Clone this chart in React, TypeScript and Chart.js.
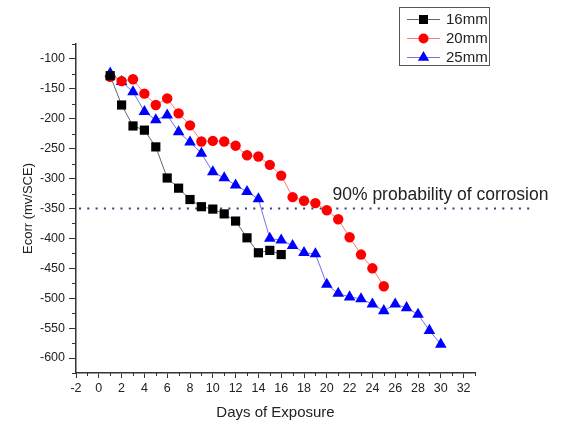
import React, { useEffect, useRef } from "react";
import { Chart, registerables } from "chart.js";

Chart.register(...registerables);

// ---- data ----
const DAYS_16 = [1, 2, 3, 4, 5, 6, 7, 8, 9, 10, 11, 12, 13, 14, 15, 16];
const ECORR_16 = [-128, -177, -212, -219, -247, -299, -316, -335, -347, -351, -359, -371, -399, -424, -420, -427];

const DAYS_20 = [1, 2, 3, 4, 5, 6, 7, 8, 9, 10, 11, 12, 13, 14, 15, 16, 17, 18, 19, 20, 21, 22, 23, 24, 25];
const ECORR_20 = [-130, -137, -134, -158, -177, -166, -191, -211, -238, -237, -238, -245, -261, -263, -277, -295, -331, -337, -341, -353, -368, -398, -427, -450, -480];

const DAYS_25 = [1, 2, 3, 4, 5, 6, 7, 8, 9, 10, 11, 12, 13, 14, 15, 16, 17, 18, 19, 20, 21, 22, 23, 24, 25, 26, 27, 28, 29, 30];
const ECORR_25 = [-124, -138, -155, -188, -202, -194, -222, -239, -258, -289, -299, -311, -322, -334, -400, -403, -412, -424, -426, -477, -492, -498, -501, -510, -521, -510, -516, -527, -554, -577];

const SERIES_LABELS = ["16mm", "20mm", "25mm"];

const X_TICKS = [-2, 0, 2, 4, 6, 8, 10, 12, 14, 16, 18, 20, 22, 24, 26, 28, 30, 32];
const X_MINOR_TICKS = [-1, 1, 3, 5, 7, 9, 11, 13, 15, 17, 19, 21, 23, 25, 27, 29, 31, 33];
const Y_TICKS = [-600, -550, -500, -450, -400, -350, -300, -250, -200, -150, -100];
const Y_MINOR_TICKS = [-625, -575, -525, -475, -425, -375, -325, -275, -225, -175, -125, -75];

const THRESHOLD = -350;
const THRESHOLD_END_X = 38;
const THRESHOLD_LABEL = "90% probability of corrosion";
const THRESHOLD_LABEL_X = 20.5;
const THRESHOLD_LABEL_Y = -328;

const X_TITLE = "Days of Exposure";
const Y_TITLE = "Ecorr (mv/SCE)";

const FONT = "'Liberation Sans', Arial, sans-serif";
const AXIS_COLOR = "#333333";
const TEXT_COLOR = "#222222";

const COLORS = {
  s16: { line: "#666666", point: "#000000", style: "rect" },
  s20: { line: "#ff7a7a", point: "#ff0000", style: "circle" },
  s25: { line: "#7070f0", point: "#0000ff", style: "triangle" },
};

function drawMarker(ctx: CanvasRenderingContext2D, style: string, x: number, y: number, color: string) {
  ctx.save();
  ctx.fillStyle = color;
  ctx.beginPath();
  if (style === "rect") {
    ctx.rect(x - 4.5, y - 4.5, 9, 9);
  } else if (style === "circle") {
    ctx.arc(x, y, 5, 0, Math.PI * 2);
  } else {
    const r = 6.5;
    ctx.moveTo(x, y - r);
    ctx.lineTo(x + r * Math.sin((2 * Math.PI) / 3), y - r * Math.cos((2 * Math.PI) / 3));
    ctx.lineTo(x + r * Math.sin((4 * Math.PI) / 3), y - r * Math.cos((4 * Math.PI) / 3));
    ctx.closePath();
  }
  ctx.fill();
  ctx.restore();
}

const extrasPlugin = {
  id: "extras",
  beforeDatasetsDraw(chart: any) {
    const { ctx, scales } = chart;
    const xs = scales.x;
    const ys = scales.y;
    const y = ys.getPixelForValue(THRESHOLD);
    ctx.save();
    ctx.strokeStyle = "#3a3a7a";
    ctx.lineWidth = 2;
    ctx.setLineDash([2, 6.3]);
    ctx.beginPath();
    ctx.moveTo(chart.chartArea.left + 3, y);
    ctx.lineTo(xs.getPixelForValue(THRESHOLD_END_X), y);
    ctx.stroke();
    ctx.restore();
  },
  afterDraw(chart: any) {
    const { ctx, scales } = chart;
    const xs = scales.x;
    const ys = scales.y;
    const area = chart.chartArea;
    ctx.save();
    // minor ticks
    ctx.strokeStyle = AXIS_COLOR;
    ctx.lineWidth = 1;
    ctx.beginPath();
    X_MINOR_TICKS.forEach((v) => {
      const px = Math.round(xs.getPixelForValue(v)) + 0.5;
      ctx.moveTo(px, area.bottom);
      ctx.lineTo(px, area.bottom + 3);
    });
    Y_MINOR_TICKS.forEach((v) => {
      const py = Math.round(ys.getPixelForValue(v)) + 0.5;
      ctx.moveTo(area.left, py);
      ctx.lineTo(area.left - 4, py);
    });
    ctx.stroke();

    // annotation text
    ctx.fillStyle = TEXT_COLOR;
    ctx.font = `17.5px ${FONT}`;
    ctx.textAlign = "left";
    ctx.textBaseline = "middle";
    ctx.fillText(THRESHOLD_LABEL, xs.getPixelForValue(THRESHOLD_LABEL_X), ys.getPixelForValue(THRESHOLD_LABEL_Y));

    // legend
    const bx = 399, by = 7, bw = 90, bh = 58;
    ctx.fillStyle = "#ffffff";
    ctx.fillRect(bx, by, bw, bh);
    ctx.strokeStyle = "#555555";
    ctx.lineWidth = 1;
    ctx.strokeRect(bx + 0.5, by + 0.5, bw, bh);
    const rows = [19, 38, 57];
    chart.data.datasets.forEach((ds: any, i: number) => {
      const ry = rows[i];
      ctx.strokeStyle = ds.borderColor;
      ctx.lineWidth = 1;
      ctx.beginPath();
      ctx.moveTo(407, ry + 0.5);
      ctx.lineTo(440, ry + 0.5);
      ctx.stroke();
      drawMarker(ctx, ds.pointStyle, 423.5, ry + 0.5, ds.pointBackgroundColor);
      ctx.fillStyle = TEXT_COLOR;
      ctx.font = `15px ${FONT}`;
      ctx.textAlign = "left";
      ctx.textBaseline = "middle";
      ctx.fillText(ds.label, 446, ry + 1);
    });
    ctx.restore();
  },
};

function makeDataset(label: string, days: number[], vals: number[], c: any, radius: number) {
  return {
    label,
    data: days.map((d, i) => ({ x: d, y: vals[i] })),
    borderColor: c.line,
    borderWidth: 1,
    pointStyle: c.style,
    pointRadius: radius,
    pointBackgroundColor: c.point,
    pointBorderColor: c.point,
    pointBorderWidth: 0,
    tension: 0,
    fill: false,
  };
}

export default function App() {
  const ref = useRef<HTMLCanvasElement | null>(null);

  useEffect(() => {
    if (!ref.current) return;
    const chart = new Chart(ref.current, {
      type: "line",
      data: {
        datasets: [
          makeDataset(SERIES_LABELS[0], DAYS_16, ECORR_16, COLORS.s16, 6.5),
          makeDataset(SERIES_LABELS[1], DAYS_20, ECORR_20, COLORS.s20, 5.2),
          makeDataset(SERIES_LABELS[2], DAYS_25, ECORR_25, COLORS.s25, 6.7),
        ],
      },
      options: {
        responsive: false,
        animation: false,
        devicePixelRatio: 1,
        layout: { padding: { top: 44, right: 88, left: 0, bottom: 0 } },
        plugins: { legend: { display: false }, tooltip: { enabled: false } },
        scales: {
          x: {
            type: "linear",
            min: -2,
            max: 33,
            afterBuildTicks: (scale: any) => {
              scale.ticks = X_TICKS.map((v) => ({ value: v }));
            },
            afterFit: (scale: any) => {
              scale.height = 51;
            },
            grid: {
              display: true,
              drawOnChartArea: false,
              drawTicks: true,
              tickLength: 5,
              tickColor: AXIS_COLOR,
              tickWidth: 1,
            },
            border: { display: true, color: AXIS_COLOR, width: 1.5 },
            ticks: {
              autoSkip: false,
              maxRotation: 0,
              padding: 3,
              color: TEXT_COLOR,
              font: { family: FONT, size: 12.5 },
            },
            title: {
              display: true,
              text: X_TITLE,
              color: TEXT_COLOR,
              font: { family: FONT, size: 15 },
              padding: { top: 0, bottom: 2 },
            },
          },
          y: {
            type: "linear",
            min: -625,
            max: -75,
            afterBuildTicks: (scale: any) => {
              scale.ticks = Y_TICKS.map((v) => ({ value: v }));
            },
            afterFit: (scale: any) => {
              scale.width = 76;
            },
            grid: {
              display: true,
              drawOnChartArea: false,
              drawTicks: true,
              tickLength: 7,
              tickColor: AXIS_COLOR,
              tickWidth: 1,
            },
            border: { display: true, color: AXIS_COLOR, width: 1.5 },
            ticks: {
              padding: 4,
              color: TEXT_COLOR,
              font: { family: FONT, size: 12.5 },
            },
            title: {
              display: true,
              text: Y_TITLE,
              color: TEXT_COLOR,
              font: { family: FONT, size: 13 },
              padding: { top: 21, bottom: 0 },
            },
          },
        },
      },
      plugins: [extrasPlugin],
    });
    return () => chart.destroy();
  }, []);

  return (
    <div style={{ position: "fixed", left: 0, top: 0, width: 563, height: 424, background: "#ffffff" }}>
      <canvas ref={ref} width={563} height={424} style={{ display: "block", width: 563, height: 424 }} />
    </div>
  );
}
